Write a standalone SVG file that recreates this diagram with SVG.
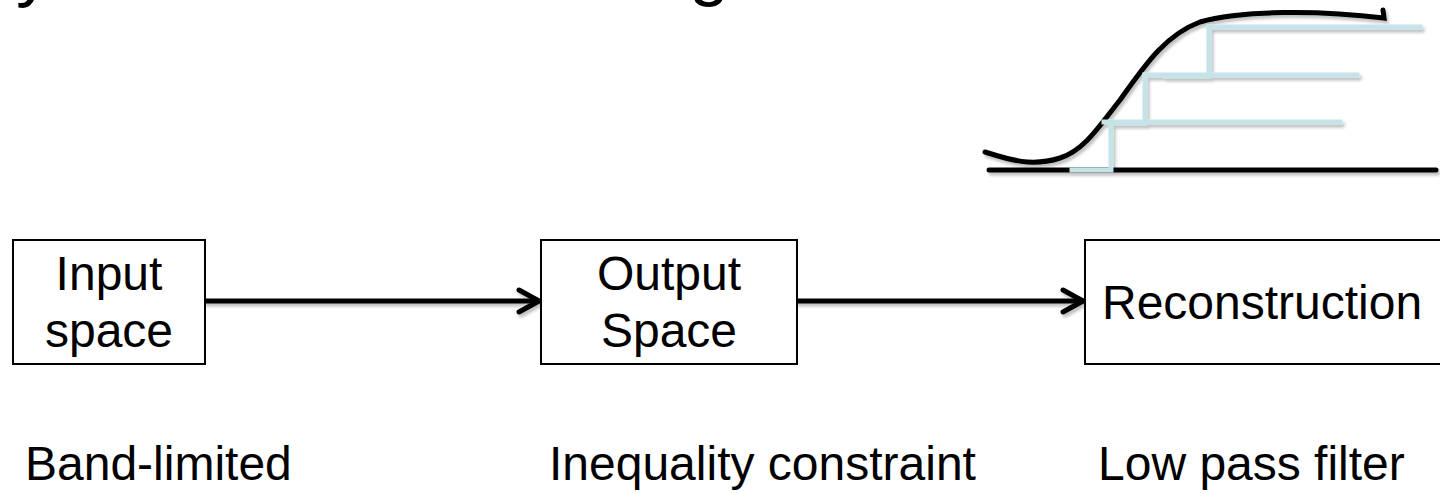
<svg xmlns="http://www.w3.org/2000/svg" width="1440" height="493" viewBox="0 0 1440 493">
<defs>
<style>
.t{font-family:"Liberation Sans",Arial,sans-serif;font-size:48px;fill:#000}
.title{font-family:"Liberation Sans",Arial,sans-serif;font-size:72px;fill:#000}
.box{fill:#fff;stroke:#000;stroke-width:2}
.conn{stroke:#000;stroke-width:5;fill:none;stroke-linecap:round;stroke-linejoin:round}
.blk{stroke:#000;stroke-width:5;fill:none;stroke-linecap:round}
.blue{stroke:#c4e4e7;stroke-width:5;fill:none;stroke-linecap:square}
</style>
<filter id="sh" x="-5%" y="-20%" width="110%" height="160%">
<feDropShadow dx="2" dy="3" stdDeviation="1.5" flood-color="#000" flood-opacity="0.25"/>
</filter>
</defs>
<rect width="1440" height="493" fill="#fff"/>
<g id="title">
<text class="title" x="16" y="-7">y</text>
<text class="title" x="689" y="-8">g</text>
</g>
<g id="graph" filter="url(#sh)">
<path class="blk" d="M989,170 H1436"/>
<path class="blk" d="M985,152 C1010,160 1032,167 1060,158 C1085,150 1100,125 1120,100 C1145,65 1165,35 1200,22 C1240,10 1320,10 1384,18 L1383,10"/>
<path class="blue" d="M1072,170 H1111 V123"/>
<path class="blue" d="M1104,122 H1340"/>
<path class="blue" d="M1111,123 H1145 V75"/>
<path class="blue" d="M1145,75 H1357"/>
<path class="blue" d="M1166,76 H1209 V27"/>
<path class="blue" d="M1209,27 H1420"/>
</g>
<g id="connectors" filter="url(#sh)">
<path class="conn" d="M205,301 H538"/>
<path class="conn" d="M519,290 L539,301 L519,312"/>
<path class="conn" d="M797,301 H1083"/>
<path class="conn" d="M1063,290 L1083,301 L1063,312"/>
</g>
<g id="input">
<rect class="box" x="13" y="240" width="192" height="124"/>
<text class="t" x="109" y="290" text-anchor="middle">Input</text>
<text class="t" x="109" y="347" text-anchor="middle">space</text>
</g>
<g id="output">
<rect class="box" x="541" y="240" width="256" height="124"/>
<text class="t" x="669" y="290" text-anchor="middle">Output</text>
<text class="t" x="669" y="347" text-anchor="middle">Space</text>
</g>
<g id="reconstruction">
<rect class="box" x="1085" y="240" width="400" height="124"/>
<text class="t" x="1102" y="319">Reconstruction</text>
</g>
<g id="labels">
<text class="t" x="25" y="480">Band-limited</text>
<text class="t" x="549" y="480">Inequality constraint</text>
<text class="t" x="1098" y="480">Low pass filter</text>
</g>
</svg>
